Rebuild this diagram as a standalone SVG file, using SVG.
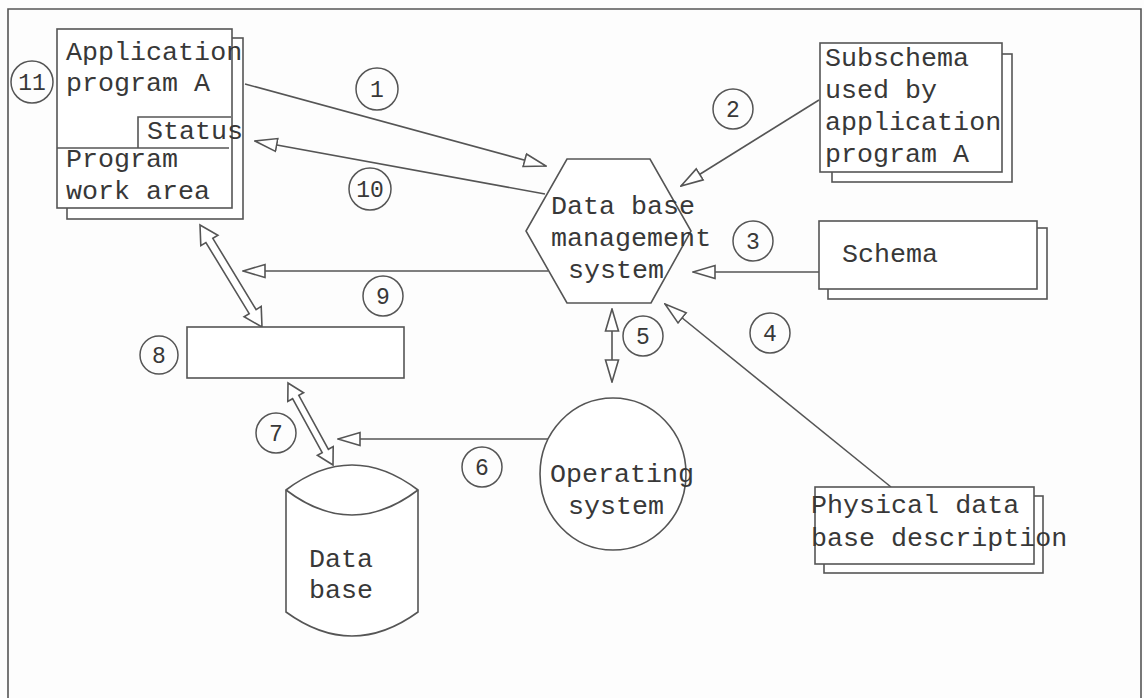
<svg xmlns="http://www.w3.org/2000/svg" width="1144" height="698" viewBox="0 0 1144 698">
<style>
.s{fill:#fff;stroke:#555;stroke-width:1.6}
.ln{fill:none;stroke:#555;stroke-width:1.6}
.t{font-family:"Liberation Mono","DejaVu Sans Mono",monospace;font-size:26.7px;fill:#383838}
.n{font-family:"Liberation Mono","DejaVu Sans Mono",monospace;font-size:23px;fill:#383838;text-anchor:middle}
.c{fill:none;stroke:#555;stroke-width:1.5}
</style>
<defs>
<marker id="oa" markerUnits="userSpaceOnUse" viewBox="0 0 24 16" markerWidth="24" markerHeight="16" refX="23" refY="8" orient="auto-start-reverse">
<path d="M1,1.5 L23,8 L1,14.5 Z" fill="#fff" stroke="#555" stroke-width="1.6"/>
</marker>
</defs>
<rect width="1144" height="698" fill="#fdfdfd"/>
<path class="ln" d="M8,698 L8,9 L1141,9 L1141,698"/>

<g id="connectors">
<line class="ln" x1="245" y1="84" x2="546" y2="166" marker-end="url(#oa)"/>
<line class="ln" x1="545" y1="194" x2="255" y2="141" marker-end="url(#oa)"/>
<line class="ln" x1="819" y1="100" x2="681" y2="186" marker-end="url(#oa)"/>
<line class="ln" x1="819" y1="272" x2="693" y2="272" marker-end="url(#oa)"/>
<line class="ln" x1="548" y1="271" x2="243" y2="271" marker-end="url(#oa)"/>
<line class="ln" x1="891" y1="487" x2="665" y2="304" marker-end="url(#oa)"/>
<line class="ln" x1="612" y1="309" x2="612" y2="382" marker-start="url(#oa)" marker-end="url(#oa)"/>
<line class="ln" x1="548" y1="439" x2="338" y2="439" marker-end="url(#oa)"/>
<polygon class="s" points="200,225 217.9,235.2 212.8,238.3 256.1,309.6 261.2,306.4 262,327 244.1,316.8 249.2,313.7 205.9,242.5 200.8,245.6"/>
<polygon class="s" points="288,383 303.6,392.7 298.8,395.4 328.4,449.3 333.2,446.6 333,465 317.4,455.3 322.2,452.7 292.6,398.7 287.8,401.4"/>
</g>

<g id="app">
<rect class="s" x="67" y="38" width="176" height="181"/>
<rect class="s" x="57" y="29" width="175" height="179"/>
<path class="ln" d="M57,148 L229,148 M138,148 L138,117 L231,117"/>
<text class="t" x="66" y="60">Application</text>
<text class="t" x="66" y="91">program A</text>
<text class="t" x="147" y="139">Status</text>
<text class="t" x="66" y="167">Program</text>
<text class="t" x="66" y="199">work area</text>
</g>

<g id="subschema">
<rect class="s" x="832" y="54" width="180" height="128"/>
<rect class="s" x="820" y="43" width="182" height="129"/>
<text class="t" x="825" y="66">Subschema</text>
<text class="t" x="825" y="98">used by</text>
<text class="t" x="825" y="130">application</text>
<text class="t" x="825" y="162">program A</text>
</g>

<g id="schema">
<rect class="s" x="828" y="228" width="219" height="71"/>
<rect class="s" x="819" y="221" width="218" height="68"/>
<text class="t" x="842" y="262">Schema</text>
</g>

<g id="dbms">
<polygon class="s" points="567,159 650,159 691,231 651,303 567,303 526,231"/>
<text class="t" x="551" y="214">Data base</text>
<text class="t" x="551" y="246">management</text>
<text class="t" x="568" y="278">system</text>
</g>

<g id="physical">
<rect class="s" x="824" y="496" width="219" height="77"/>
<rect class="s" x="815" y="487" width="219" height="77"/>
<text class="t" x="811" y="513">Physical data</text>
<text class="t" x="811" y="546">base description</text>
</g>

<g id="os">
<ellipse class="s" cx="613" cy="474" rx="73" ry="76"/>
<text class="t" x="550" y="482">Operating</text>
<text class="t" x="568" y="514">system</text>
</g>

<g id="buffer">
<rect class="s" x="187" y="327" width="217" height="51"/>
</g>

<g id="database">
<path class="s" d="M286,490 Q352,440 418,490 L418,612 Q352,660 286,612 Z"/>
<path class="ln" d="M286,490 Q352,540 418,490"/>
<text class="t" x="309" y="567">Data</text>
<text class="t" x="309" y="598">base</text>
</g>

<g id="labels">
<g id="n1"><circle class="c" cx="377" cy="89" r="21"/><text class="n" x="377" y="97">1</text></g>
<g id="n2"><circle class="c" cx="733" cy="109" r="20"/><text class="n" x="733" y="117">2</text></g>
<g id="n3"><circle class="c" cx="753" cy="241" r="20"/><text class="n" x="753" y="249">3</text></g>
<g id="n4"><circle class="c" cx="770" cy="333" r="20"/><text class="n" x="770" y="341">4</text></g>
<g id="n5"><circle class="c" cx="643" cy="336" r="20"/><text class="n" x="643" y="344">5</text></g>
<g id="n6"><circle class="c" cx="482" cy="467" r="20"/><text class="n" x="482" y="475">6</text></g>
<g id="n7"><circle class="c" cx="276" cy="433" r="20"/><text class="n" x="276" y="441">7</text></g>
<g id="n8"><circle class="c" cx="159" cy="355" r="19"/><text class="n" x="159" y="363">8</text></g>
<g id="n9"><circle class="c" cx="383" cy="296" r="20"/><text class="n" x="383" y="304">9</text></g>
<g id="n10"><circle class="c" cx="370" cy="189" r="21"/><text class="n" x="370" y="197">10</text></g>
<g id="n11"><ellipse class="c" cx="32" cy="82" rx="21" ry="21"/><text class="n" x="32" y="90">11</text></g>
</g>
</svg>
